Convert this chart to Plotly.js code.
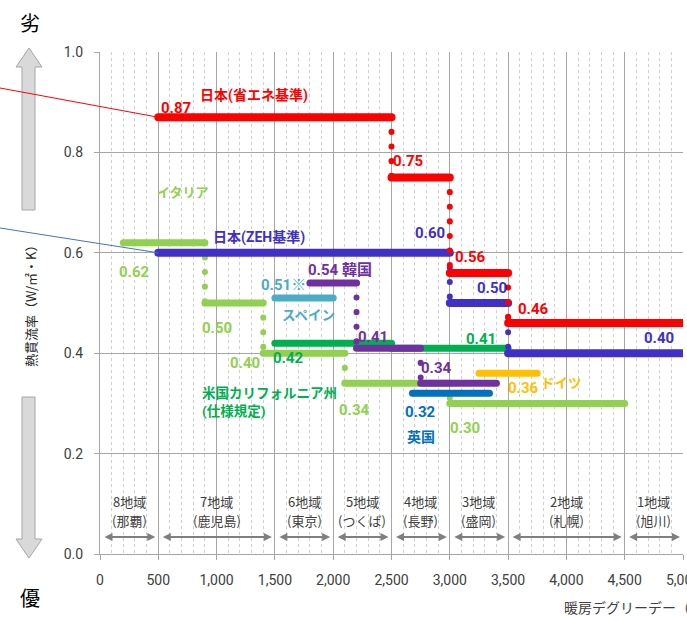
<!DOCTYPE html>
<html>
<head>
<meta charset="utf-8">
<script src="https://cdn.plot.ly/plotly-3.0.1.min.js"></script>
<style>
  html, body { margin: 0; padding: 0; overflow: hidden; background: #fff; }
  #chart { width: 740px; height: 621px; }
  /* round ends for the step bars and round dots for the dotted risers */
  #chart .js-line { stroke-linecap: round; }
</style>
</head>
<body>
<div id="chart"></div>
<script>
// ---- climate zones (heating degree-days) ----
const zoneNames  = ['8地域', '7地域', '6地域', '5地域', '4地域', '3地域', '2地域', '1地域'];
const zoneCities = ['(那覇)', '(鹿児島)', '(東京)', '(つくば)', '(長野)', '(盛岡)', '(札幌)', '(旭川)'];
const zoneEdges  = [0, 500, 1500, 2000, 2500, 3000, 3500, 4500, 5000];

// ---- U-values by heating degree-day band ----
// 日本（省エネ基準）
const jpStdStart = [500, 2500, 3000, 3500];
const jpStdEnd   = [2500, 3000, 3500, 5000];
const jpStdU     = [0.87, 0.75, 0.56, 0.46];
// 日本（ZEH基準）
const jpZehStart = [500, 3000, 3500];
const jpZehEnd   = [3000, 3500, 5000];
const jpZehU     = [0.60, 0.50, 0.40];
// イタリア
const itStart = [200, 900, 1400, 2100, 3000];
const itEnd   = [900, 1400, 2100, 3000, 4500];
const itU     = [0.62, 0.50, 0.40, 0.34, 0.30];
// 米国カリフォルニア州（仕様規定）
const usStart = [1500, 2500];
const usEnd   = [2500, 3500];
const usU     = [0.42, 0.41];
// スペイン
const esStart = [1500];
const esEnd   = [2000];
const esU     = [0.51];
// 韓国
const krStart = [1800, 2200, 2750];
const krEnd   = [2200, 2750, 3400];
const krU     = [0.54, 0.41, 0.34];
// 英国
const ukStart = [2680];
const ukEnd   = [3340];
const ukU     = [0.32];
// ドイツ
const deStart = [3250];
const deEnd   = [3750];
const deU     = [0.36];

// ---- page geometry ----
const W = 740, H = 621, ML = 100, MR = 57, MT = 52, MB = 67;
const PW = W - ML - MR, PH = H - MT - MB;
const px2x = p => (p - ML) / PW;          // pixel -> paper x
const py2y = p => (H - MB - p) / PH;      // pixel -> paper y

const NUM_FONT = 'Roboto, "Noto Sans CJK JP", sans-serif';
const JP_FONT  = '"Noto Sans CJK JP", sans-serif';

const C = {
  jpStd: '#ff0000', jpZeh: '#4030c8', it: '#92d050', us: '#00b050',
  es: '#4bacc6', kr: '#7030a0', uk: '#0070c0', de: '#ffc000'
};

// horizontal bars per band + dotted risers where bands meet
function steps(start, end, u, color, width) {
  const x = [], y = [];
  start.forEach((s, i) => { x.push(s, end[i], null); y.push(u[i], u[i], null); });
  const cx = [], cy = [];
  for (let i = 0; i < start.length - 1; i++) {
    if (end[i] === start[i + 1]) { cx.push(end[i], end[i], null); cy.push(u[i], u[i + 1], null); }
  }
  const out = [];
  if (cx.length) out.push({ type: 'scatter', mode: 'lines', x: cx, y: cy, hoverinfo: 'skip',
    line: { color, width: 6, dash: '0.1px,14.5px' } });
  out.push({ type: 'scatter', mode: 'lines', x, y, hoverinfo: 'skip', line: { color, width } });
  return out;
}

const data = [].concat(
  steps(itStart, itEnd, itU, C.it, 7),
  steps(usStart, usEnd, usU, C.us, 7),
  steps(esStart, esEnd, esU, C.es, 7),
  steps(krStart, krEnd, krU, C.kr, 7),
  steps(ukStart, ukEnd, ukU, C.uk, 7),
  steps(deStart, deEnd, deU, C.de, 7),
  steps(jpZehStart, jpZehEnd, jpZehU, C.jpZeh, 8),
  steps(jpStdStart, jpStdEnd, jpStdU, C.jpStd, 8)
);

const annotations = [];
const fmt = v => v.toFixed(2);
function label(text, x, y, color, size, extra) {
  annotations.push(Object.assign({
    text, x, y, xref: 'x', yref: 'y', showarrow: false, xanchor: 'center', yanchor: 'middle',
    font: { family: NUM_FONT, size: size || 15, color, weight: 'bold' }
  }, extra || {}));
}

// value labels
label(fmt(jpStdU[0]), 650, 0.889, C.jpStd);
label(fmt(jpStdU[1]), 2640, 0.783, C.jpStd);
label(fmt(jpStdU[2]), 3180, 0.592, C.jpStd);
label(fmt(jpStdU[3]), 3720, 0.488, C.jpStd);
label(fmt(jpZehU[0]), 2830, 0.639, C.jpZeh);
label(fmt(jpZehU[1]), 3360, 0.530, C.jpZeh);
label(fmt(jpZehU[2]), 4795, 0.430, C.jpZeh);
label(fmt(itU[0]), 300, 0.562, C.it);
label(fmt(itU[1]), 1000, 0.450, C.it);
label(fmt(itU[2]), 1245, 0.380, C.it);
label(fmt(itU[3]), 2180, 0.287, C.it);
label(fmt(itU[4]), 3130, 0.251, C.it);
label(fmt(usU[0]), 1615, 0.390, C.us);
label(fmt(usU[1]), 3265, 0.428, C.us);
label(fmt(esU[0]) + '※', 1570, 0.536, C.es);
label(fmt(krU[0]) + ' 韓国', 2060, 0.566, C.kr);
label(fmt(krU[1]), 2340, 0.432, C.kr);
label(fmt(krU[2]), 2890, 0.370, C.kr);
label(fmt(ukU[0]), 2750, 0.283, C.uk);
label(fmt(deU[0]), 3630, 0.331, C.de);

// series names
label('日本(省エネ基準)', 1320, 0.914, C.jpStd, 14);
label('日本(ZEH基準)', 1360, 0.631, C.jpZeh, 14);
label('イタリア', 710, 0.721, C.it, 13);
label('米国カリフォルニア州<br>(仕様規定)', 857, 0.303, C.us, 13.5, { xanchor: 'left', align: 'left' });
label('スペイン', 1785, 0.476, C.es, 13.5);
label('英国', 2750, 0.233, C.uk, 14);
label('ドイツ', 3960, 0.341, C.de, 13.5);

// zone captions and span arrows
zoneNames.forEach((z, i) => {
  const mid = (zoneEdges[i] + zoneEdges[i + 1]) / 2;
  const cap = { xref: 'x', yref: 'y', x: mid, xanchor: 'center', yanchor: 'middle', showarrow: false,
    font: { family: JP_FONT, size: 13, color: '#404040' } };
  annotations.push(Object.assign({ text: z, y: 0.105 }, cap));
  annotations.push(Object.assign({ text: zoneCities[i], y: 0.066 }, cap));
  annotations.push({ text: '', x: zoneEdges[i + 1], y: 0.034, ax: zoneEdges[i], ay: 0.034,
    xref: 'x', yref: 'y', axref: 'x', ayref: 'y', showarrow: true, arrowside: 'end+start',
    arrowhead: 2, startarrowhead: 2, arrowsize: 0.8, startarrowsize: 0.8, arrowwidth: 2,
    arrowcolor: '#7f7f7f', standoff: 3, startstandoff: 3 });
});

// axis titles and the 劣 / 優 markers
function paperText(text, px, py, font, extra) {
  annotations.push(Object.assign({ text, x: px2x(px), y: py2y(py), xref: 'paper', yref: 'paper',
    xanchor: 'center', yanchor: 'middle', showarrow: false, font }, extra || {}));
}
paperText('熱貫流率（W/㎡・K）', 30, 303, { family: JP_FONT, size: 13, color: '#262626' }, { textangle: -90 });
paperText('暖房デグリーデー（度日）', 562, 607, { family: JP_FONT, size: 14, color: '#404040' }, { xanchor: 'left' });
paperText('劣', 30, 22, { family: JP_FONT, size: 20, color: '#000' });
paperText('優', 30, 597, { family: JP_FONT, size: 20, color: '#000' });

function pathPx(pts) {
  return 'M' + pts.map(p => px2x(p[0]) + ',' + py2y(p[1])).join('L') + 'Z';
}
const shapes = [
  { type: 'path', xref: 'paper', yref: 'paper', fillcolor: '#d9d9d9', line: { color: '#a6a6a6', width: 1 },
    path: pathPx([[29, 48], [42, 67], [35, 67], [35, 210], [22, 210], [22, 67], [16, 67]]) },
  { type: 'path', xref: 'paper', yref: 'paper', fillcolor: '#d9d9d9', line: { color: '#a6a6a6', width: 1 },
    path: pathPx([[22, 397], [35, 397], [35, 539], [42, 539], [29, 558], [16, 539], [22, 539]]) },
  // leader lines into the two Japanese series
  { type: 'line', xref: 'paper', yref: 'paper', x0: px2x(0), y0: py2y(88),
    x1: jpStdStart[0] / 5000, y1: jpStdU[0], line: { color: '#ff0000', width: 1 } },
  { type: 'line', xref: 'paper', yref: 'paper', x0: px2x(0), y0: py2y(228),
    x1: jpZehStart[0] / 5000, y1: jpZehU[0], line: { color: '#4472c4', width: 1 } }
];

const tickFont = { family: NUM_FONT, size: 14, color: '#404040' };
const layout = {
  width: W, height: H,
  margin: { l: ML, r: MR, t: MT, b: MB, pad: 0 },
  paper_bgcolor: '#fff', plot_bgcolor: '#fff',
  showlegend: false, hovermode: false,
  xaxis: {
    range: [0, 5000], tick0: 0, dtick: 500, tickformat: ',',
    showgrid: true, gridcolor: '#a6a6a6', gridwidth: 1,
    minor: { dtick: 100, showgrid: true, gridcolor: '#d0d0d0', griddash: 'dot', gridwidth: 1 },
    ticks: 'outside', ticklen: 5, tickcolor: '#a6a6a6', ticklabelstandoff: 8,
    showline: true, linecolor: '#a6a6a6', zeroline: false, tickfont: tickFont, fixedrange: true
  },
  yaxis: {
    range: [0, 1], tick0: 0, dtick: 0.2, tickformat: '.1f',
    showgrid: true, gridcolor: '#a6a6a6', gridwidth: 1,
    ticks: 'outside', ticklen: 5, tickcolor: '#a6a6a6', ticklabelstandoff: 8,
    showline: true, linecolor: '#a6a6a6', zeroline: false, tickfont: tickFont, fixedrange: true
  },
  annotations, shapes
};

Plotly.newPlot('chart', data, layout, { displayModeBar: false, staticPlot: true });
</script>
</body>
</html>
